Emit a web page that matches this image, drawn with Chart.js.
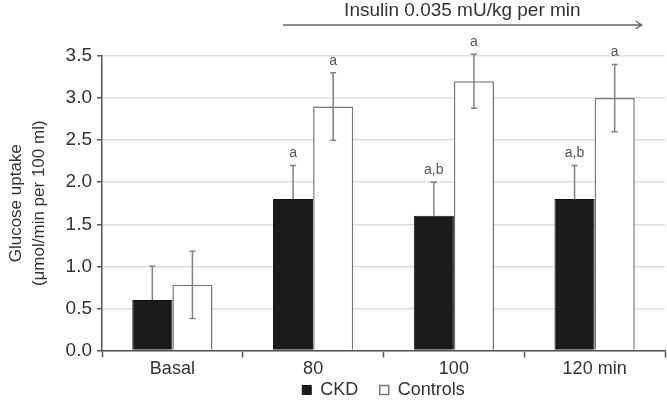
<!DOCTYPE html>
<html lang="en">
<head>
    <meta charset="UTF-8">
    <title>Glucose uptake</title>
    <script src="https://cdn.jsdelivr.net/npm/chart.js"></script>
    <style>
        body {
            margin: 0;
            background: #fff;
        }
        #wrap {
            position: relative;
            width: 667px;
            height: 409px;
        }
    </style>
</head>
<body>
    <div id="wrap">
        <canvas id="chart" width="667" height="409"></canvas>
    </div>

    <script>
        // data
        const categories = ["Basal", "80", "100", "120 min"];
        const ckdValues = [0.6, 1.8, 1.6, 1.8];
        const ckdErrors = [0.4, 0.4, 0.4, 0.4];
        const controlValues = [0.78, 2.9, 3.2, 3.0];
        const controlErrors = [0.4, 0.4, 0.32, 0.4];
        const ckdMarks = ["", "a", "a,b", "a,b"];
        const controlMarks = ["", "a", "a", "a"];
        const headerText = "Insulin 0.035 mU/kg per min";

        const FONT = "'Liberation Sans', Arial, sans-serif";
        const TEXT = "#333";
        const AXIS = "#555";

        // error bars, significance letters and the insulin arrow
        const extras = {
            id: "extras",
            afterDatasetsDraw(chart) {
                const ctx = chart.ctx;
                const y = chart.scales.y;
                const x = chart.scales.x;
                const sets = [
                    { vals: ckdValues, errs: ckdErrors, marks: ckdMarks, upOnly: true },
                    { vals: controlValues, errs: controlErrors, marks: controlMarks, upOnly: false }
                ];

                ctx.save();
                sets.forEach((s, di) => {
                    const meta = chart.getDatasetMeta(di);
                    meta.data.forEach((bar, i) => {
                        const top = y.getPixelForValue(s.vals[i] + s.errs[i]);
                        const bot = s.upOnly ? y.getPixelForValue(s.vals[i]) : y.getPixelForValue(s.vals[i] - s.errs[i]);
                        ctx.strokeStyle = "#808080";
                        ctx.lineWidth = 1.5;
                        ctx.beginPath();
                        ctx.moveTo(bar.x, top);
                        ctx.lineTo(bar.x, bot);
                        ctx.moveTo(bar.x - 3, top);
                        ctx.lineTo(bar.x + 3, top);
                        if (!s.upOnly) {
                            ctx.moveTo(bar.x - 3, bot);
                            ctx.lineTo(bar.x + 3, bot);
                        }
                        ctx.stroke();

                        if (s.marks[i]) {
                            ctx.fillStyle = "#555";
                            ctx.font = "14px " + FONT;
                            ctx.textAlign = "center";
                            ctx.textBaseline = "bottom";
                            ctx.fillText(s.marks[i], bar.x, top - 5);
                        }
                    });
                });

                // arrow over the insulin period
                const x0 = x.getPixelForValue(1) - 30;
                const x1 = x.getPixelForValue(3) + 47;
                const ay = 25;
                ctx.strokeStyle = "#666";
                ctx.lineWidth = 1.5;
                ctx.beginPath();
                ctx.moveTo(x0, ay);
                ctx.lineTo(x1, ay);
                ctx.moveTo(x1 - 6, ay - 4);
                ctx.lineTo(x1, ay);
                ctx.lineTo(x1 - 6, ay + 4);
                ctx.stroke();

                ctx.fillStyle = TEXT;
                ctx.font = "19px " + FONT;
                ctx.textAlign = "center";
                ctx.textBaseline = "middle";
                ctx.fillText(headerText, (x0 + x1) / 2, 11);
                ctx.restore();
            }
        };

        new Chart(document.getElementById("chart"), {
            type: "bar",
            data: {
                labels: categories,
                datasets: [
                    {
                        label: "CKD",
                        data: ckdValues,
                        backgroundColor: "#1b1b1b",
                        borderColor: "#111",
                        borderWidth: 1
                    },
                    {
                        label: "Controls",
                        data: controlValues,
                        backgroundColor: "#fff",
                        borderColor: "#777",
                        borderWidth: 1.5
                    }
                ]
            },
            options: {
                responsive: false,
                animation: false,
                categoryPercentage: 0.57,
                barPercentage: 1,
                layout: {
                    padding: { top: 56, right: 2, left: 5, bottom: 0 }
                },
                plugins: {
                    legend: {
                        position: "bottom",
                        fullSize: false,
                        labels: {
                            color: TEXT,
                            font: { family: FONT, size: 18, lineHeight: 1 },
                            boxWidth: 9,
                            boxHeight: 9,
                            padding: 3.5,
                            // a little extra room between the two entries
                            generateLabels: chart => Chart.defaults.plugins.legend.labels.generateLabels(chart)
                                .map((item, i) => i === 0 ? { ...item, text: item.text + "\u2002\u2002" } : item)
                        }
                    },
                    tooltip: { enabled: false }
                },
                scales: {
                    x: {
                        grid: {
                            display: true,
                            drawOnChartArea: false,
                            tickLength: 7,
                            tickColor: AXIS,
                            tickWidth: 1.5
                        },
                        border: { color: AXIS, width: 1.5 },
                        ticks: {
                            color: TEXT,
                            font: { family: FONT, size: 18, lineHeight: 1 },
                            padding: 3
                        },
                        afterFit: axis => { axis.height = 27; }
                    },
                    y: {
                        min: 0,
                        max: 3.5,
                        ticks: {
                            stepSize: 0.5,
                            color: TEXT,
                            font: { family: FONT, size: 19 },
                            padding: 5,
                            callback: v => v.toFixed(1)
                        },
                        grid: {
                            color: "#dedede",
                            lineWidth: 1.5,
                            tickLength: 5,
                            tickColor: AXIS
                        },
                        border: { color: AXIS, width: 1.5 },
                        title: {
                            display: true,
                            text: ["Glucose uptake", "(\u03bcmol/min per 100 ml)"],
                            color: TEXT,
                            font: { family: FONT, size: 17, lineHeight: 1.35 },
                            padding: { top: 0, bottom: 6 }
                        },
                        afterFit: axis => { axis.width = 97; }
                    }
                }
            },
            plugins: [extras]
        });
    </script>
</body>
</html>
